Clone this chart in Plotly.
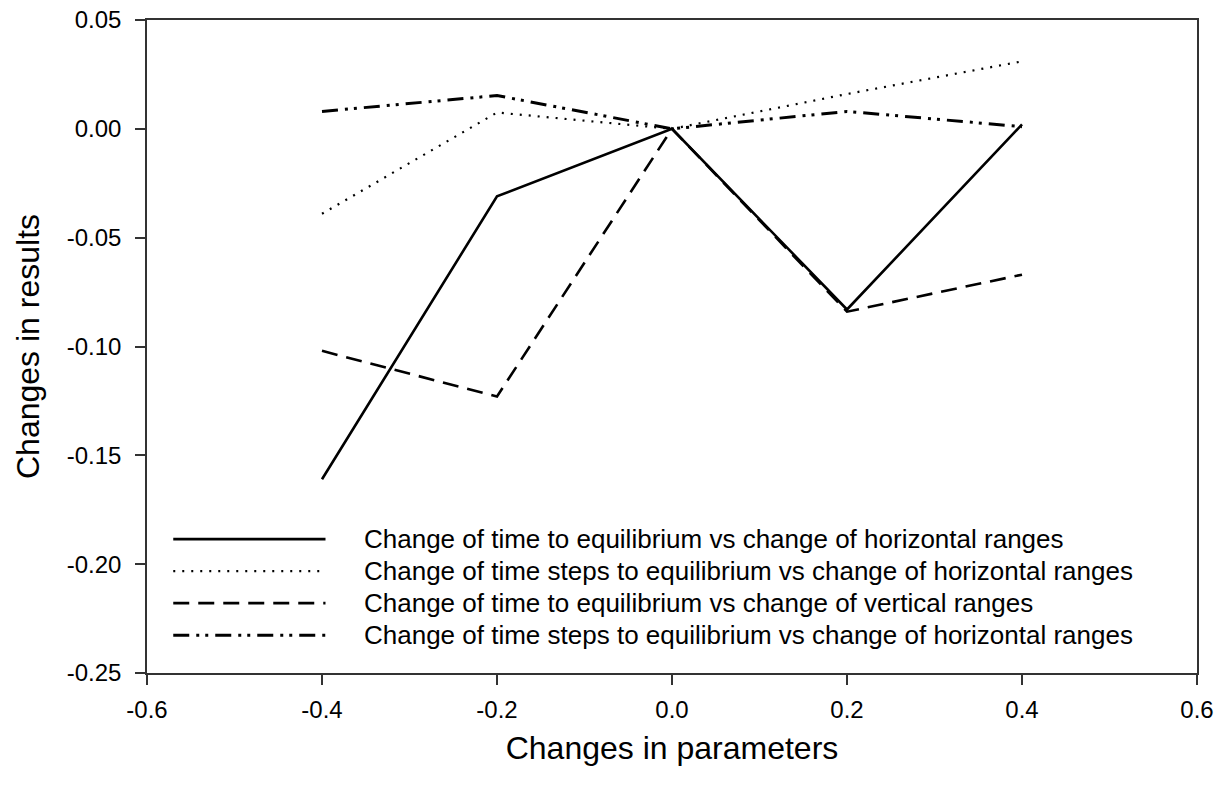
import plotly.graph_objects as go

# Relative changes of the model parameters
param_change = [-0.4, -0.2, 0.0, 0.2, 0.4]

# Resulting relative changes of the outputs
time_eq_horizontal = [-0.161, -0.031, 0.0, -0.083, 0.002]
steps_eq_horizontal = [-0.039, 0.0075, 0.0, 0.016, 0.031]
time_eq_vertical = [-0.102, -0.123, 0.0, -0.084, -0.067]
steps_eq_horizontal_2 = [0.008, 0.0153, 0.0, 0.008, 0.001]

series_names = [
    "Change of time to equilibrium vs change of horizontal ranges",
    "Change of time steps to equilibrium vs change of horizontal ranges",
    "Change of time to equilibrium vs change of vertical ranges",
    "Change of time steps to equilibrium vs change of horizontal ranges",
]

x_ticks = [-0.6, -0.4, -0.2, 0.0, 0.2, 0.4, 0.6]
y_ticks = [-0.25, -0.20, -0.15, -0.10, -0.05, 0.00, 0.05]

FONT = "Arial, Liberation Sans, sans-serif"

styles = [
    dict(width=2.6, dash="solid"),
    dict(width=2.2, dash="2px,7px"),
    dict(width=2.6, dash="16px,9px"),
    dict(width=3.0, dash="16px,7px,3px,6px,3px,7px"),
]

series = [time_eq_horizontal, steps_eq_horizontal, time_eq_vertical, steps_eq_horizontal_2]

fig = go.Figure()
for name, ys, st in zip(series_names, series, styles):
    fig.add_trace(go.Scatter(
        x=param_change, y=ys, mode="lines", name=name,
        line=dict(color="black", width=st["width"], dash=st["dash"]),
        showlegend=False,
    ))

# Hand-drawn legend block inside the plotting area (long sample lines)
legend_rows_y = [0.205, 0.156, 0.107, 0.058]
for name, st, ly in zip(series_names, styles, legend_rows_y):
    fig.add_shape(type="line", xref="paper", yref="paper",
                  x0=0.025, x1=0.17, y0=ly, y1=ly,
                  line=dict(color="black", width=st["width"], dash=st["dash"]))
    fig.add_annotation(xref="paper", yref="paper", x=0.205, y=ly,
                       text=name, showarrow=False, xanchor="left", yanchor="middle",
                       font=dict(family=FONT, size=26, color="black"))

axis_common = dict(
    showgrid=False, zeroline=False, showline=True, linecolor="#333333",
    linewidth=1.5, mirror=True, ticks="outside", ticklen=10, tickwidth=1.5,
    tickcolor="#333333", tickfont=dict(family=FONT, size=24, color="black"),
    automargin=False,
)

fig.update_layout(
    width=1225, height=785,
    margin=dict(l=147, r=28, t=20, b=112),
    paper_bgcolor="white", plot_bgcolor="white",
    xaxis=dict(range=[-0.6, 0.6], tickvals=x_ticks,
               ticktext=[f"{v:.1f}" for v in x_ticks],
               ticklabelstandoff=4,
               title=dict(text="Changes in parameters", standoff=15,
                          font=dict(family=FONT, size=32, color="black")),
               **axis_common),
    yaxis=dict(range=[-0.25, 0.05], tickvals=y_ticks,
               ticktext=[f"{v:.2f}" for v in y_ticks],
               ticklabelstandoff=9,
               title=dict(text="Changes in results", standoff=18,
                          font=dict(family=FONT, size=32, color="black")),
               **axis_common),
)

fig.write_html("out.html")
